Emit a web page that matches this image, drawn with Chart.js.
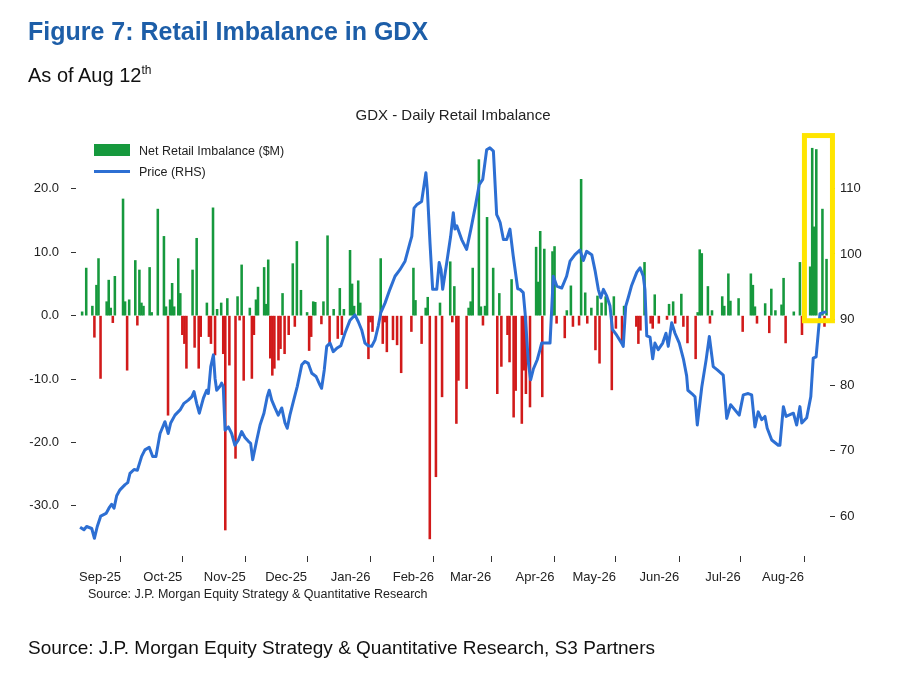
<!DOCTYPE html>
<html>
<head>
<meta charset="utf-8">
<title>Retail Imbalance in GDX</title>
<script src="https://cdn.jsdelivr.net/npm/chart.js@4.4.1/dist/chart.umd.min.js"></script>
<style>
  html, body { margin: 0; padding: 0; background: #fff; }
  #wrap { position: relative; width: 900px; height: 675px; overflow: hidden; font-family: "Liberation Sans", Arial, sans-serif; }
  #chart { position: absolute; left: 0; top: 0; }
  .txt { position: absolute; white-space: nowrap; color: #111; }
  #figTitle { left: 28px; top: 17px; font-family: "Liberation Sans Narrow", "Arial Narrow", "Liberation Sans", sans-serif; font-weight: bold; font-size: 25px; line-height: 28px; color: #1d5ea8; }
  #asOf { left: 28px; top: 63px; font-size: 20px; line-height: 24px; }
  #asOf sup { font-size: 12px; vertical-align: 8px; line-height: 0; }
  #innerSource { left: 88px; top: 586px; font-size: 12.5px; line-height: 16px; color: #222; }
  #source { left: 28px; top: 637px; font-size: 19px; line-height: 22px; }
  .legItem { position: absolute; left: 94px; }
  .legText { position: absolute; left: 139px; font-size: 12.5px; line-height: 16px; color: #222; white-space: nowrap; }
</style>
</head>
<body>
<div id="wrap">
  <canvas id="chart" width="900" height="675"></canvas>
  <div class="txt" id="figTitle">Figure 7: Retail Imbalance in GDX</div>
  <div class="txt" id="asOf">As of Aug 12<sup>th</sup></div>
  <div class="legItem" id="legBar" style="top:144px;width:36px;height:12px;"></div>
  <div class="legText" style="top:143px;">Net Retail Imbalance ($M)</div>
  <div class="legItem" id="legLine" style="top:170px;width:36px;height:3px;"></div>
  <div class="legText" style="top:164px;">Price (RHS)</div>
  <div class="txt" id="innerSource">Source: J.P. Morgan Equity Strategy &amp; Quantitative Research</div>
  <div class="txt" id="source">Source: J.P. Morgan Equity Strategy &amp; Quantitative Research, S3 Partners</div>
</div>
<script>
// x values are calendar days since 12-Aug-2025
const monthDays = [20, 50, 81, 111, 142, 173, 201, 232, 262, 293, 323, 354];
const monthLabels = ['Sep-25', 'Oct-25', 'Nov-25', 'Dec-25', 'Jan-26', 'Feb-26',
                     'Mar-26', 'Apr-26', 'May-26', 'Jun-26', 'Jul-26', 'Aug-26'];
const leftTicks = [-30, -20, -10, 0, 10, 20];
const rightTicks = [60, 70, 80, 90, 100, 110];

// Net retail imbalance ($M), daily
const imbDay = [
  1, 3, 6, 7, 8, 9, 10, 13, 14, 15, 16, 17, 21, 22, 23, 24, 27, 28, 29, 30,
  31, 34, 35, 38, 41, 42, 43, 44, 45, 46, 48, 49, 50, 51, 52, 55, 56, 57, 58, 59,
  62, 63, 64, 65, 66, 67, 69, 70, 71, 72, 73, 76, 77, 78, 79, 80, 83, 84, 85, 86,
  87, 90, 91, 92, 93, 94, 95, 97, 98, 99, 100, 102, 104, 105, 106, 108, 111, 112, 113, 114,
  115, 118, 119, 121, 122, 124, 126, 127, 128, 129, 132, 133, 134, 136, 137, 141, 142, 143, 147, 148,
  149, 150, 153, 155, 157, 162, 163, 164, 167, 169, 170, 171, 174, 176, 177, 181, 182, 183, 184, 185,
  189, 190, 191, 192, 195, 196, 197, 198, 199, 202, 204, 205, 206, 209, 210, 211, 212, 213, 216, 217,
  218, 220, 223, 224, 225, 226, 227, 231, 232, 233, 237, 238, 240, 241, 244, 245, 247, 248, 250, 252,
  253, 254, 255, 257, 260, 261, 262, 265, 266, 272, 273, 274, 276, 279, 280, 281, 283, 287, 288, 290,
  291, 294, 295, 297, 301, 302, 303, 304, 307, 308, 309, 314, 315, 317, 318, 322, 324, 328, 329, 330,
  331, 335, 337, 338, 340, 343, 344, 345, 349, 352, 353, 357, 358, 359, 360, 363, 364, 365
];
const imbValue = [
  0.6, 7.5, 1.5, -3.4, 4.8, 9.0, -9.9, 2.2, 5.6, 1.2, -1.1, 6.2, 18.4, 2.2, -8.6, 2.5, 8.7, -1.5, 7.2, 2.0,
  1.5, 7.6, 0.5, 16.8, 12.5, 1.4, -15.7, 2.5, 5.1, 1.4, 9.0, 3.5, -3.0, -4.4, -8.3, 7.2, -5.0, 12.2, -8.3, -3.3,
  2.0, -3.3, -4.4, 17.0, -6.2, 1.0, 2.0, -6.0, -33.8, 2.7, -7.8, -22.5, 3.0, -0.7, 8.0, -10.2, 1.2, -9.9, -3.0, 2.5,
  4.5, 7.6, 1.8, 8.8, -6.7, -9.4, -8.3, -7.0, -5.2, 3.5, -6.0, -3.0, 8.2, -1.7, 11.7, 4.0, 0.5, -5.5, -3.3, 2.2,
  2.1, -1.3, 2.2, 12.6, -4.4, 1.0, -3.6, 4.3, -3.0, 1.0, 10.3, 5.0, 1.5, 5.5, 2.0, -6.8, -1.0, -2.5, 9.0, -4.4,
  -1.0, -5.7, -3.8, -4.6, -9.0, -2.5, 7.5, 2.4, -4.4, 1.2, 2.9, -35.2, -25.4, 2.0, -12.8, 8.5, -1.0, 4.6, -17.0, -10.2,
  -11.5, 1.2, 2.2, 7.5, 24.6, 1.4, -1.5, 1.5, 15.5, 7.5, -12.3, 3.5, -8.0, -3.0, -7.3, 5.7, -16.0, -11.8, -17.0, -8.6,
  -12.3, -14.4, 10.8, 5.3, 13.3, -12.8, 10.5, 10.1, 10.9, -1.2, -3.5, 0.8, 4.7, -1.7, -1.5, 21.5, 3.6, -1.2, 1.2, -5.4,
  3.1, -7.5, 2.0, 3.0, -11.7, 3.0, -2.0, -4.0, 1.5, -1.7, -4.4, -2.3, 8.4, -1.2, -2.0, 3.3, -1.2, -0.6, 1.8, 2.2,
  -1.2, 3.4, -1.7, -4.3, -6.8, 0.5, 10.4, 9.8, 4.6, -1.2, 0.8, 3.0, 1.5, 6.6, 2.3, 2.7, -2.5, 6.6, 4.8, 1.4,
  -1.2, 1.9, -2.7, 4.2, 0.8, 1.7, 5.9, -4.3, 0.6, 8.4, -3.0, 7.7, 26.4, 14.0, 26.2, 16.8, -1.7, 8.9
];

// GDX price (RHS)
const priceDay = [
  0, 1.9, 3.2, 5.7, 7, 8.4, 10.1, 12.7, 14.1, 15.4, 16.6, 17.9, 19.5, 22, 23.3, 24.4, 26.4, 28, 30.1, 31.7,
  33.8, 35.5, 37.1, 39.1, 41.5, 43.1, 44.3, 46.4, 48.9, 50.8, 52.9, 54.6, 55.7, 57, 58.3, 60.3, 61.9, 62.7, 63.9, 65.2,
  66, 66.8, 68.4, 69.2, 70, 70.9, 72.5, 74.1, 75.7, 77.4, 79, 80.6, 82.3, 83.4, 84.4, 86.4, 88, 89.9, 91.5, 92.5,
  93.7, 95.3, 96.9, 98.6, 100.2, 101.3, 102.6, 104.3, 106.2, 108.4, 110, 111.6, 113.3, 115.4, 117.3, 118.1, 119.4, 120.6, 122.2, 123.8,
  125.5, 127.5, 129.5, 132, 134.4, 136, 137.7, 139.3, 140.9, 142.6, 144.2, 145.8, 147, 149.1, 151.5, 154, 156.4, 158.9, 161.3, 162.2,
  163.3, 164.6, 167, 169.1, 169.8, 171.1, 172.4, 174.4, 175.6, 176.5, 177.3, 179.3, 181.2, 182.5, 183.3, 184.2, 186.6, 189, 191.1, 193.1,
  195.2, 196.9, 198.8, 200.4, 202.1, 203.7, 204.5, 205.4, 207, 208.6, 210.2, 211.8, 214, 215.1, 216.7, 217.6, 219.2, 220.3, 221.6, 223.6,
  224.9, 225.7, 226.8, 229.8, 231.4, 233.1, 235.5, 237.9, 239.6, 242, 244.4, 246.1, 247.7, 250.2, 251.8, 253.4, 254.6, 255.9, 257.5, 259.1,
  260.3, 262.4, 264.8, 265.6, 266.8, 268.1, 269.7, 272.2, 273.8, 275.4, 276.2, 277.1, 278.7, 280, 281.1, 282.7, 284.9, 286.5, 287.6, 289.3,
  290.9, 293, 295, 296.6, 297.2, 299.1, 300.7, 301.8, 304, 306.1, 307.7, 309.6, 311.6, 314.5, 316.2, 318.1, 320.2, 322.3, 324.3, 326.7,
  328.4, 330, 331.6, 333.3, 334.9, 336, 338.2, 341.4, 342.2, 343.9, 345.2, 348.8, 350.4, 352, 352.9, 355.3, 357.3, 358.5, 359.9, 361,
  361.8, 365
];
const priceValue = [
  58.3, 57.9, 58.4, 58.1, 56.6, 58.4, 60.0, 60.4, 61.2, 61.8, 61.2, 63.1, 64.0, 64.8, 65.1, 66.5, 67.1, 67.0, 69.1, 70.1,
  70.5, 69.1, 69.1, 72.6, 74.4, 72.6, 74.2, 75.4, 76.2, 77.2, 77.7, 78.2, 79.0, 77.2, 75.7, 78.0, 79.2, 78.7, 82.8, 84.6,
  81.0, 79.2, 79.8, 80.3, 79.8, 73.1, 73.6, 72.6, 70.8, 71.6, 72.9, 72.0, 71.4, 71.1, 68.6, 71.6, 73.9, 75.7, 78.2, 79.2,
  77.7, 76.5, 75.4, 76.5, 74.2, 73.4, 75.4, 77.5, 79.8, 83.1, 83.6, 83.3, 81.8, 81.3, 80.0, 79.5, 82.3, 85.9, 86.4, 85.1,
  85.6, 86.0, 87.9, 89.9, 90.7, 89.7, 88.4, 86.4, 86.0, 85.9, 86.9, 89.0, 91.0, 92.5, 94.6, 96.6, 97.6, 98.9, 101.7, 102.7,
  107.0, 107.5, 108.0, 112.4, 109.8, 101.7, 94.6, 94.6, 98.7, 97.6, 94.6, 98.7, 102.7, 106.3, 103.8, 104.3, 102.2, 100.7, 103.8, 107.0,
  110.6, 111.4, 115.9, 116.2, 115.7, 106.0, 105.5, 104.8, 102.2, 102.2, 103.8, 99.7, 94.7, 94.6, 94.1, 91.0, 83.4, 80.8, 82.4, 83.9,
  85.4, 86.4, 86.4, 86.4, 96.6, 95.1, 94.8, 96.6, 98.9, 99.9, 100.6, 99.0, 100.4, 99.9, 97.5, 94.6, 93.3, 94.6, 93.6, 92.1,
  88.5, 87.6, 86.4, 85.9, 92.0, 93.4, 95.2, 97.2, 97.9, 96.6, 94.6, 87.5, 87.3, 84.0, 86.4, 85.4, 86.4, 87.9, 85.9, 89.5,
  87.9, 86.4, 84.0, 81.4, 79.2, 78.7, 78.2, 73.9, 79.7, 83.8, 87.4, 82.8, 82.3, 81.5, 74.9, 77.0, 76.2, 75.4, 78.5, 78.7,
  78.5, 73.6, 75.9, 74.7, 75.2, 73.4, 71.6, 70.8, 70.8, 76.7, 75.2, 75.7, 73.9, 76.7, 74.2, 75.0, 78.2, 84.1, 84.3, 88.1,
  90.9, 91.2
];

// highlighted box round the latest days (days, imbalance units)
const highlightDays = [354.2, 367.9];
const highlightLevels = [-0.8, 28.4];

const GREEN = '#16993d';
const RED = '#d11a1a';
const BLUE = '#2d6fd3';

document.getElementById('legBar').style.background = GREEN;
document.getElementById('legLine').style.background = BLUE;

const highlightBox = {
    id: 'highlightBox',
    afterDatasetsDraw: function(chart) {
        const ctx = chart.ctx;
        const x = chart.scales.x;
        const y = chart.scales.y;
        const x0 = x.getPixelForValue(highlightDays[0]);
        const x1 = x.getPixelForValue(highlightDays[1]);
        const y0 = y.getPixelForValue(highlightLevels[1]);
        const y1 = y.getPixelForValue(highlightLevels[0]);
        ctx.save();
        ctx.strokeStyle = '#ffe500';
        ctx.lineWidth = 5;
        ctx.strokeRect(x0, y0, x1 - x0, y1 - y0);
        ctx.restore();
    }
};

Chart.defaults.font.family = '"Liberation Sans", Arial, sans-serif';
Chart.defaults.color = '#222';

new Chart(document.getElementById('chart'), {
    type: 'bar',
    data: {
        datasets: [
            {
                type: 'line',
                label: 'Price (RHS)',
                data: priceDay.map((d, i) => ({ x: d, y: priceValue[i] })),
                yAxisID: 'yR',
                borderColor: BLUE,
                borderWidth: 3,
                pointRadius: 0,
                tension: 0,
                borderJoinStyle: 'round',
                order: 0
            },
            {
                label: 'Net Retail Imbalance ($M)',
                data: imbDay.map((d, i) => ({ x: d, y: imbValue[i] })),
                yAxisID: 'y',
                backgroundColor: imbValue.map(v => v >= 0 ? GREEN : RED),
                barThickness: 1.9,
                order: 1
            }
        ]
    },
    options: {
        responsive: false,
        animation: false,
        layout: { padding: 0 },
        plugins: {
            legend: { display: false },
            tooltip: { enabled: false },
            title: {
                display: true,
                text: 'GDX - Daily Retail Imbalance',
                fullSize: false,
                font: { size: 15, weight: 'normal' },
                color: '#222',
                padding: { top: 107, bottom: 15 }
            }
        },
        scales: {
            x: {
                type: 'linear',
                min: -2,
                max: 366.7,
                offset: false,
                border: { display: false },
                grid: { offset: false, drawOnChartArea: false, drawTicks: true, tickLength: 6, color: '#333' },
                ticks: {
                    autoSkip: false,
                    maxRotation: 0,
                    align: 'end',
                    padding: 8,
                    font: { size: 13 },
                    callback: function(value) {
                        const i = monthDays.indexOf(value);
                        return i >= 0 ? monthLabels[i] : '';
                    }
                },
                afterBuildTicks: function(scale) {
                    scale.ticks = monthDays.map(v => ({ value: v }));
                },
                afterFit: function(scale) {
                    scale.height = 119;
                }
            },
            y: {
                position: 'left',
                min: -37.9,
                max: 27.7,
                border: { display: false },
                grid: { drawOnChartArea: false, drawTicks: true, tickLength: 5, color: '#333' },
                ticks: {
                    padding: 12,
                    font: { size: 13 },
                    callback: v => v.toFixed(1)
                },
                afterBuildTicks: function(scale) {
                    scale.ticks = leftTicks.map(v => ({ value: v }));
                },
                afterFit: function(scale) {
                    scale.width = 76;
                }
            },
            yR: {
                position: 'right',
                min: 53.9,
                max: 117.4,
                border: { display: false },
                grid: { drawOnChartArea: false, drawTicks: true, tickLength: 5, color: '#333' },
                ticks: {
                    padding: 5,
                    font: { size: 13 },
                    callback: v => String(v)
                },
                afterBuildTicks: function(scale) {
                    scale.ticks = rightTicks.map(v => ({ value: v }));
                },
                afterFit: function(scale) {
                    scale.width = 70;
                }
            }
        }
    },
    plugins: [highlightBox]
});
</script>
</body>
</html>
